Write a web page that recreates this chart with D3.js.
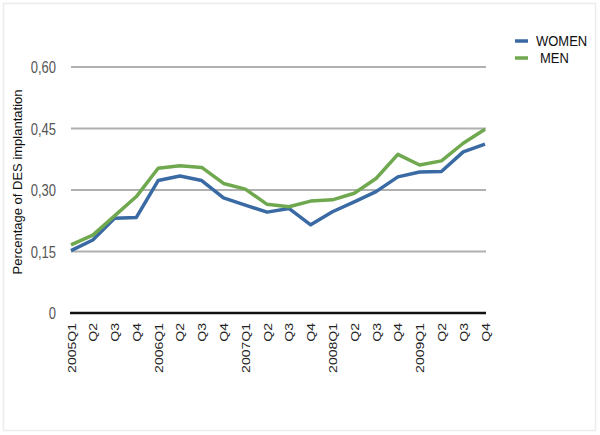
<!DOCTYPE html>
<html><head><meta charset="utf-8">
<script src="https://cdn.jsdelivr.net/npm/d3@7"></script>
<style>body{margin:0;background:#fff;}svg{display:block;}</style>
</head><body>
<script>
const categories = ["2005Q1","Q2","Q3","Q4","2006Q1","Q2","Q3","Q4","2007Q1","Q2","Q3","Q4","2008Q1","Q2","Q3","Q4","2009Q1","Q2","Q3","Q4"];
const women = [0.152,0.178,0.231,0.233,0.323,0.334,0.323,0.281,0.263,0.246,0.255,0.215,0.247,0.271,0.296,0.332,0.344,0.345,0.393,0.412];
const men   = [0.166,0.190,0.237,0.284,0.353,0.359,0.355,0.316,0.302,0.265,0.259,0.273,0.276,0.292,0.328,0.387,0.361,0.371,0.414,0.448];
const yTicks = [0,0.15,0.30,0.45,0.60];
const yTickLabels = ["0","0,15","0,30","0,45","0,60"];
const seriesNames = ["WOMEN","MEN"];
const colors = ["#3a6aa3","#6fa84f"];

const W=600,H=435;
const FONT="Liberation Sans, Arial, sans-serif";
const svg=d3.select("body").append("svg").attr("width",W).attr("height",H);
svg.append("rect").attr("x",3.5).attr("y",3.5).attr("width",592).attr("height",427)
  .attr("fill","none").attr("stroke","#ececec").attr("stroke-width",1.5);

const x=d3.scalePoint().domain(d3.range(categories.length)).range([71,485]);
const y=d3.scaleLinear().domain([0,0.6]).range([313,67]);

// gridlines
svg.append("g").selectAll("line").data(yTicks.filter(d=>d>0)).join("line")
  .attr("x1",71).attr("x2",486).attr("y1",d=>y(d)).attr("y2",d=>y(d))
  .attr("stroke","#b0b0b0").attr("stroke-width",2);

// y axis labels
const yAxis=d3.axisLeft(y).tickValues(yTicks).tickSize(0).tickPadding(0)
  .tickFormat((d,i)=>yTickLabels[i]);
const gy=svg.append("g").attr("transform","translate(56,0)").call(yAxis);
gy.select(".domain").remove();
gy.selectAll("text").attr("font-family",FONT).attr("font-size",13).attr("fill","#555")
  .attr("dy","0.35em").attr("transform","scale(1,1.22)");

// zero line
svg.append("line").attr("x1",70).attr("x2",486).attr("y1",y(0)).attr("y2",y(0))
  .attr("stroke","#111").attr("stroke-width",2.5);

// x axis labels
const xAxis=d3.axisBottom(x).tickSize(0).tickPadding(0).tickFormat(i=>categories[i]);
const gx=svg.append("g").attr("transform","translate(0,323)").call(xAxis);
gx.select(".domain").remove();
gx.selectAll("text").attr("font-family",FONT).attr("font-size",11.5).attr("fill","#222")
  .attr("text-anchor","end").attr("dy","0.35em").attr("y",0)
  .attr("transform","rotate(-90) scale(1.22,1)");

// y title
svg.append("text").attr("transform","translate(22,182) rotate(-90)").attr("text-anchor","middle")
  .attr("font-family",FONT).attr("font-size",13).attr("fill","#111")
  .text("Percentage of DES implantation");

// lines
const line=d3.line().x((d,i)=>x(i)).y(d=>y(d));
[women,men].forEach((s,k)=>{
  svg.append("path").datum(s).attr("d",line).attr("fill","none")
    .attr("stroke",colors[k]).attr("stroke-width",3.5).attr("stroke-linejoin","round");
});

// legend
const lg=svg.append("g");
seriesNames.forEach((n,k)=>{
  const ly=41+k*17;
  lg.append("line").attr("x1",515).attr("x2",528).attr("y1",ly).attr("y2",ly)
    .attr("stroke",colors[k]).attr("stroke-width",3.5);
  lg.append("text").attr("transform",`translate(${k===0?536:540},${ly}) scale(1,1.12)`).attr("dy","0.35em")
    .attr("font-family",FONT).attr("font-size",13).attr("fill","#111").text(n);
});
</script>
</body></html>
